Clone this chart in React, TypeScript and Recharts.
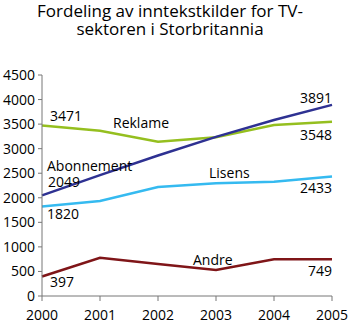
import { LineChart, Line, XAxis, YAxis, LabelList } from "recharts"

const years = ["2000", "2001", "2002", "2003", "2004", "2005"]
const reklame = [3471, 3366, 3143, 3232, 3483, 3548]
const abonnement = [2049, 2460, 2860, 3240, 3585, 3891]
const lisens = [1820, 1935, 2220, 2295, 2328, 2433]
const andre = [397, 780, 650, 530, 749, 749]
const yTicks = [0, 500, 1000, 1500, 2000, 2500, 3000, 3500, 4000, 4500]

const data = years.map((year, i) => ({
  year,
  reklame: reklame[i],
  abonnement: abonnement[i],
  lisens: lisens[i],
  andre: andre[i],
}))

const FONT = "'Open Sans', sans-serif"

type Note = { index: number; text: "value" | "name"; dx: number; dy: number; anchor: "start" | "end" }

// where the in-plot labels sit relative to their point
const notes: Record<string, Note[]> = {
  reklame: [
    { index: 0, text: "value", dx: 8, dy: -5, anchor: "start" },
    { index: 1, text: "name", dx: 13, dy: -3, anchor: "start" },
    { index: 5, text: "value", dx: 0, dy: 18, anchor: "end" },
  ],
  abonnement: [
    { index: 0, text: "name", dx: 5, dy: -24, anchor: "start" },
    { index: 0, text: "value", dx: 6, dy: -8, anchor: "start" },
    { index: 5, text: "value", dx: 0, dy: -2, anchor: "end" },
  ],
  lisens: [
    { index: 3, text: "name", dx: -7, dy: -5, anchor: "start" },
    { index: 0, text: "value", dx: 5, dy: 12, anchor: "start" },
    { index: 5, text: "value", dx: 0, dy: 16, anchor: "end" },
  ],
  andre: [
    { index: 2, text: "name", dx: 35, dy: 1, anchor: "start" },
    { index: 0, text: "value", dx: 8, dy: 10, anchor: "start" },
    { index: 5, text: "value", dx: 0, dy: 17, anchor: "end" },
  ],
}

function makeLabel(key: string, name: string) {
  return (props: any) => {
    const { x, y, index, value } = props
    return (
      <g>
        {notes[key]
          .filter((n) => n.index === index)
          .map((n, j) => (
            <text
              key={j}
              x={x + n.dx}
              y={y + n.dy}
              textAnchor={n.anchor}
              fontSize={14}
              fontFamily={FONT}
              fill="#000"
            >
              {n.text === "name" ? name : value}
            </text>
          ))}
      </g>
    )
  }
}

const series = [
  { key: "reklame", name: "Reklame", color: "#95bf1f" },
  { key: "abonnement", name: "Abonnement", color: "#2e3192" },
  { key: "lisens", name: "Lisens", color: "#35baf0" },
  { key: "andre", name: "Andre", color: "#7f1518" },
]

export default function App() {
  return (
    <div style={{ position: "absolute", left: 0, top: 0, width: 350, height: 326, background: "#fff" }}>
      <div
        style={{
          position: "absolute",
          left: 0,
          top: 2,
          width: 340,
          textAlign: "center",
          fontFamily: FONT,
          fontSize: 17,
          lineHeight: "18px",
          color: "#000",
        }}
      >
        Fordeling av inntekstkilder for TV-
        <br />
        sektoren i Storbritannia
      </div>
      <LineChart width={350} height={326} data={data} margin={{ top: 75, right: 18, bottom: 0, left: 0 }}>
        <XAxis
          dataKey="year"
          tickLine={{ stroke: "#777" }}
          axisLine={{ stroke: "#777" }}
          tickSize={5}
          tickMargin={9}
          tick={{ fontSize: 14, fontFamily: FONT, fill: "#000" }}
          height={30}
        />
        <YAxis
          domain={[0, 4500]}
          ticks={yTicks}
          interval={0}
          width={42}
          tickLine={{ stroke: "#777" }}
          axisLine={{ stroke: "#777" }}
          tickSize={4}
          tickMargin={3}
          tick={{ fontSize: 14, fontFamily: FONT, fill: "#000" }}
        />
        {series.map((s) => (
          <Line
            key={s.key}
            dataKey={s.key}
            name={s.name}
            type="linear"
            stroke={s.color}
            strokeWidth={2.5}
            dot={false}
            isAnimationActive={false}
          >
            <LabelList dataKey={s.key} content={makeLabel(s.key, s.name)} />
          </Line>
        ))}
      </LineChart>
    </div>
  )
}
